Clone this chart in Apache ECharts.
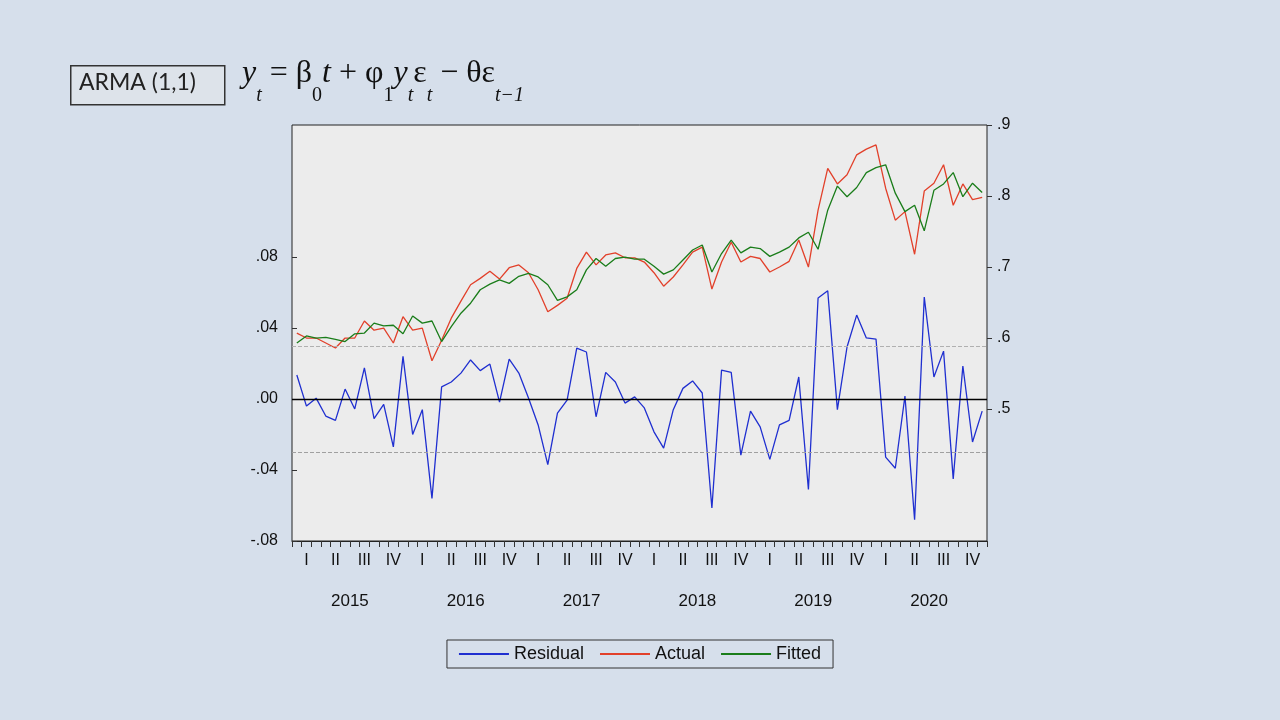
<!DOCTYPE html>
<html><head><meta charset="utf-8">
<script src="https://cdn.jsdelivr.net/npm/echarts@6/dist/echarts.min.js"></script>
<style>html,body{margin:0;padding:0;background:#d6dfeb;}#c{width:1280px;height:720px;}</style>
</head><body><div id="c"></div>
<script>
const years = ['2015','2016','2017','2018','2019','2020'];
const quarterNames = ['I','II','III','IV'];
const months = [];
years.forEach(y => { for (let m = 1; m <= 12; m++) months.push(y + '-' + m); });

const residual = [0.0135,-0.004,0.0005,-0.0096,-0.012,0.0056,-0.0056,0.0175,-0.011,-0.003,-0.027,0.024,
 -0.02,-0.006,-0.056,0.0068,0.0096,0.0146,0.022,0.016,0.0197,-0.0017,0.0225,0.0146,
 0.0006,-0.0146,-0.037,-0.008,-0.0006,0.0287,0.0265,-0.01,0.015,0.0096,-0.0023,0.0012,
 -0.005,-0.0185,-0.0277,-0.006,0.006,0.0102,0.0034,-0.0614,0.0163,0.015,-0.0316,-0.0068,
 -0.0157,-0.034,-0.0146,-0.012,0.0124,-0.051,0.0569,0.061,-0.006,0.0293,0.0473,0.0344,
 0.0338,-0.0327,-0.039,0.0017,-0.068,0.0575,0.0124,0.027,-0.045,0.0186,-0.0242,-0.0068];
const actual = [0.607,0.600,0.600,0.593,0.586,0.600,0.600,0.624,0.611,0.614,0.593,0.630,
 0.611,0.614,0.568,0.597,0.628,0.652,0.675,0.684,0.694,0.683,0.699,0.703,
 0.692,0.668,0.637,0.646,0.656,0.698,0.721,0.703,0.717,0.720,0.713,0.713,
 0.707,0.692,0.673,0.686,0.703,0.721,0.728,0.669,0.707,0.735,0.707,0.715,
 0.712,0.693,0.700,0.708,0.738,0.700,0.780,0.839,0.817,0.830,0.858,0.866,
 0.872,0.811,0.766,0.778,0.718,0.807,0.818,0.844,0.787,0.817,0.795,0.798];
const fitted = [0.593,0.603,0.600,0.601,0.598,0.595,0.606,0.607,0.621,0.617,0.618,0.606,
 0.631,0.621,0.624,0.595,0.616,0.635,0.649,0.668,0.676,0.682,0.677,0.687,
 0.691,0.686,0.675,0.653,0.658,0.668,0.696,0.712,0.701,0.712,0.714,0.711,
 0.711,0.701,0.690,0.696,0.710,0.724,0.731,0.693,0.719,0.738,0.720,0.728,
 0.726,0.715,0.721,0.728,0.741,0.749,0.725,0.780,0.814,0.799,0.812,0.833,
 0.840,0.844,0.804,0.778,0.787,0.751,0.808,0.817,0.833,0.799,0.818,0.805];
const leftTicks = [-0.08,-0.04,0,0.04,0.08];
const rightTicks = [0.5,0.6,0.7,0.8,0.9];
const band = 0.0278;

const fmt = v => { const s = Math.abs(v).toFixed(v>0.3||v<-0.3?1:2).replace(/^0/,''); return (v<0?'-':'')+s; };
const chart = echarts.init(document.getElementById('c'));
const lab = {color:'#111', fontSize:16, fontFamily:'Arial, Liberation Sans, sans-serif'};
const serif = 'Liberation Serif, DejaVu Serif, serif';
chart.setOption({
  backgroundColor:'#d6dfeb',
  animation:false,
  grid:{left:292,right:293,top:125,bottom:179,show:true,backgroundColor:'#ececec',borderColor:'#222',borderWidth:1},
  legend:{bottom:52,left:'center',itemWidth:50,itemHeight:2,itemGap:16,icon:'rect',
    backgroundColor:'#d6dfeb',borderColor:'#333',borderWidth:1,padding:[5,12],
    textStyle:{color:'#111',fontSize:18,fontFamily:'Arial, Liberation Sans, sans-serif'},
    data:['Residual','Actual','Fitted']},
  xAxis:[
    {type:'category',data:months,boundaryGap:true,
     axisLine:{onZero:false,lineStyle:{color:'#222'}},
     axisTick:{show:true,interval:0,length:6,lineStyle:{color:'#333'}},
     axisLabel:{interval:0,margin:12,...lab,formatter:(v,i)=> i%3===1 ? quarterNames[Math.floor((i%12)/3)] : ''},
     splitLine:{show:false}},
    {type:'category',data:years,position:'bottom',offset:44,
     axisLine:{show:false},axisTick:{show:false},
     axisLabel:{interval:0,...lab,fontSize:17}}
  ],
  yAxis:[
    {type:'value',min:-0.08,max:0.1544,position:'left',
     axisLine:{show:false},splitLine:{show:false},
     axisTick:{show:true,customValues:leftTicks,length:5,inside:true,lineStyle:{color:'#333'}},
     axisLabel:{customValues:leftTicks,formatter:v=>fmt(v),...lab,margin:14}},
    {type:'value',min:0.3142,max:0.9,position:'right',
     axisLine:{show:false},splitLine:{show:false},
     axisTick:{show:true,customValues:rightTicks,length:5,inside:false,lineStyle:{color:'#333'}},
     axisLabel:{customValues:rightTicks,formatter:v=>fmt(v),...lab,margin:10}}
  ],
  series:[
    {name:'Residual',type:'line',xAxisIndex:0,yAxisIndex:0,data:residual,symbol:'none',
     lineStyle:{color:'#1f2fd0',width:1.3},itemStyle:{color:'#1f2fd0'},
     markLine:{silent:true,symbol:'none',label:{show:false},
       data:[{yAxis:0,lineStyle:{color:'#000',type:'solid',width:1.3}},
             {yAxis:band,lineStyle:{color:'#b0b0b0',type:'dashed',width:1}},
             {yAxis:-band,lineStyle:{color:'#a0a0a0',type:'dashed',width:1}}]}},
    {name:'Actual',type:'line',xAxisIndex:0,yAxisIndex:1,data:actual,symbol:'none',
     lineStyle:{color:'#e2402a',width:1.3},itemStyle:{color:'#e2402a'}},
    {name:'Fitted',type:'line',xAxisIndex:0,yAxisIndex:1,data:fitted,symbol:'none',
     lineStyle:{color:'#1a7d1a',width:1.3},itemStyle:{color:'#1a7d1a'}}
  ],
  graphic:[
    {type:'rect',left:70,top:65,shape:{width:154,height:39},style:{fill:'#dde3ea',stroke:'#333',lineWidth:1.5}},
    {type:'text',left:79,top:71,style:{text:'ARMA (1,1)',fontSize:23,fill:'#222',fontFamily:'Lato, Open Sans, sans-serif'}},
    {type:'text',left:242,top:58,style:{
      text:'{i|y}{s|t}{n| = β}{s0|0}{i|t}{n| + φ}{s0|1}{i|y}{s|t}{n|ε}{s|t}{n| − θε}{s|t−1}',
      rich:{
        i:{fontSize:32,fontStyle:'italic',fontFamily:serif,fill:'#111',lineHeight:48,verticalAlign:'top'},
        n:{fontSize:32,fontFamily:serif,fill:'#111',lineHeight:48,verticalAlign:'top'},
        s:{fontSize:20,fontStyle:'italic',fontFamily:serif,fill:'#111',lineHeight:20,verticalAlign:'bottom'},
        s0:{fontSize:20,fontFamily:serif,fill:'#111',lineHeight:20,verticalAlign:'bottom'}
      }}}
  ]
});
</script></body></html>
